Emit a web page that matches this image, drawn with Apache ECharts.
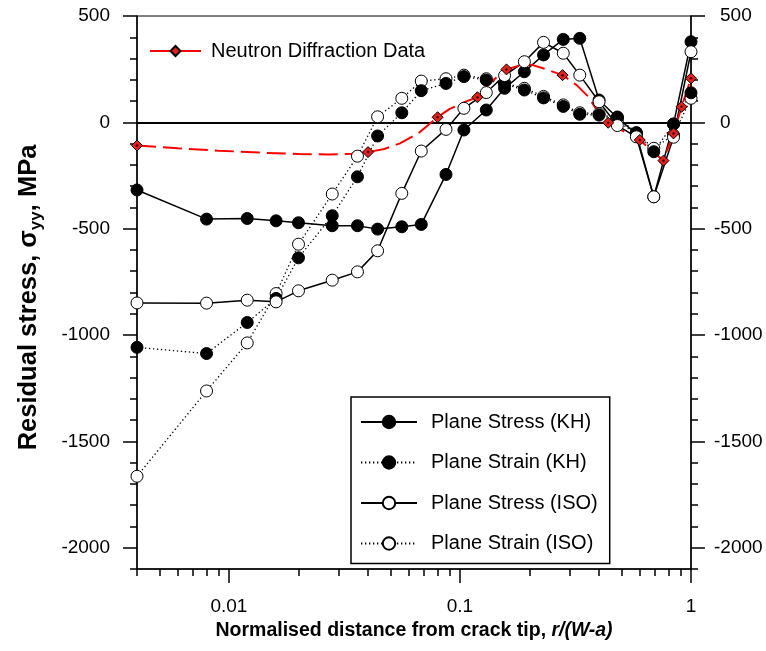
<!DOCTYPE html>
<html>
<head>
<meta charset="utf-8">
<script src="https://cdn.jsdelivr.net/npm/echarts@6/dist/echarts.min.js"></script>
<style>
  html, body { margin: 0; padding: 0; background: #fff; }
  #chart { width: 766px; height: 651px; }
</style>
</head>
<body>
<div id="chart"></div>
<script>
// r/(W-a) positions shared by the four FE curves
const xFE = [0.004, 0.008, 0.012, 0.016, 0.02, 0.028, 0.036, 0.044, 0.056, 0.068, 0.087, 0.104,
  0.13, 0.156, 0.19, 0.23, 0.28, 0.33, 0.40, 0.48, 0.58, 0.69, 0.84, 1.0];

const stressKH = [-318, -455, -452, -463, -472, -486, -486, -502, -491, -480, -245, -36,
  58, 160, 238, 317, 390, 395, 105, 22, -55, -350, -8, 379];
const strainKH = [-1058, -1087, -941, -828, -637, -439, -256, -64, 45, 149, 183, 215,
  199, 180, 152, 115, 75, 38, 34, 25, -48, -138, -8, 139];
const stressISO = [-849, -850, -836, -844, -792, -742, -703, -604, -334, -135, -33, 66,
  140, 220, 285, 376, 325, 222, 97, -15, -68, -350, -70, 332];
const strainISO = [-1664, -1263, -1037, -805, -573, -337, -159, 26, 113, 194, 205, 222,
  205, 185, 160, 122, 82, 45, 40, 5, -52, -122, -60, 113];

// neutron diffraction measurements
const ndX = [0.004, 0.04, 0.08, 0.119, 0.159, 0.278, 0.438, 0.60, 0.76, 0.84, 0.91, 1.0];
const ndY = [-109, -140, 24, 118, 249, 222, -2, -83, -180, -52, 73, 207];
// points along the fitted dashed curve between measurements
const fitX = [0.006, 0.009, 0.014, 0.02, 0.027, 0.034, 0.047, 0.055, 0.066, 0.09, 0.105,
  0.138, 0.18, 0.205, 0.235, 0.32, 0.36, 0.40];
const fitY = [-122, -133, -143, -149, -151, -148, -125, -99, -52, 62, 96,
  195, 266, 270, 250, 175, 120, 40];

const xMajor = [0.01, 0.1, 1];
const xMinor = [0.004, 0.005, 0.006, 0.007, 0.008, 0.009, 0.02, 0.03, 0.04, 0.05, 0.06, 0.07, 0.08, 0.09,
  0.2, 0.3, 0.4, 0.5, 0.6, 0.7, 0.8, 0.9];
const yMajor = [-2000, -1500, -1000, -500, 0, 500];

const FONT = 'Liberation Sans, Arial, sans-serif';

const pairs = (xs, ys) => xs.map((x, i) => [x, ys[i]]);

const redData = [];
ndX.forEach((x, i) => redData.push({ value: [x, ndY[i]], symbol: 'diamond' }));
fitX.forEach((x, i) => redData.push({ value: [x, fitY[i]], symbol: 'none' }));
redData.sort((a, b) => a.value[0] - b.value[0]);

const chart = echarts.init(document.getElementById('chart'));

const xBase = {
  type: 'log', min: 0.004, max: 1, position: 'bottom',
  splitLine: { show: false }
};
const yBase = {
  type: 'value', min: -2100, max: 500,
  splitLine: { show: false }
};
const tickLine = { color: '#000', width: 1.5 };

chart.setOption({
  animation: false,
  backgroundColor: '#fff',
  textStyle: { fontFamily: FONT },
  grid: { left: 137, right: 75, top: 16, bottom: 82, show: true, borderColor: '#000', borderWidth: 1 },
  legend: [
    {
      data: [{ name: 'Neutron Diffraction Data', lineStyle: { type: 'solid' } }],
      left: 149, top: 41, padding: 0,
      itemWidth: 51, itemHeight: 12.5,
      textStyle: { fontSize: 20, color: '#000', fontFamily: FONT, padding: [0, 0, 0, 5] }
    },
    {
      data: ['Plane Stress (KH)', 'Plane Strain (KH)', 'Plane Stress (ISO)', 'Plane Strain (ISO)'],
      orient: 'vertical', left: 351, top: 397,
      padding: [15, 12, 10, 9], itemGap: 20.5,
      itemWidth: 56, itemHeight: 15.5,
      borderColor: '#000', borderWidth: 1.5,
      textStyle: { fontSize: 20, color: '#000', fontFamily: FONT, padding: [0, 0, 0, 9] }
    }
  ],
  xAxis: [
    Object.assign({}, xBase, {
      name: 'Normalised distance from crack tip, {i|r/(W-a)}',
      nameLocation: 'middle', nameGap: 48,
      nameTextStyle: {
        fontSize: 19.5, fontWeight: 'bold', color: '#000', fontFamily: FONT,
        rich: { i: { fontSize: 19.5, fontWeight: 'bold', fontStyle: 'italic', color: '#000', fontFamily: FONT } }
      },
      axisLine: { onZero: false, lineStyle: tickLine },
      axisTick: { customValues: xMajor, length: 14, lineStyle: tickLine },
      axisLabel: { customValues: xMajor, formatter: v => String(v), fontSize: 19, color: '#000', margin: 28, fontFamily: FONT }
    }),
    Object.assign({}, xBase, {
      axisLine: { show: false, onZero: false },
      axisTick: { customValues: xMinor, length: 7, lineStyle: tickLine },
      axisLabel: { show: false }
    })
  ],
  yAxis: [
    Object.assign({}, yBase, {
      position: 'left',
      name: 'Residual stress, σ{sub|yy}, MPa',
      nameLocation: 'middle', nameGap: 92, nameRotate: 90,
      nameTextStyle: {
        fontSize: 25.5, fontWeight: 'bold', color: '#000', fontFamily: FONT,
        padding: [0, 10, 0, 0],
        rich: { sub: { fontSize: 17, fontWeight: 'bold', color: '#000', fontFamily: FONT, padding: [16, 0, 0, 0], verticalAlign: 'bottom' } }
      },
      axisLine: { onZero: false, lineStyle: tickLine },
      axisTick: { customValues: yMajor, length: 14, lineStyle: tickLine },
      axisLabel: { customValues: yMajor, formatter: v => String(v), fontSize: 19, color: '#000', margin: 27, fontFamily: FONT }
    }),
    Object.assign({}, yBase, {
      position: 'left', interval: 100,
      axisLine: { show: false, onZero: false },
      axisTick: { length: 7, lineStyle: tickLine },
      axisLabel: { show: false }
    }),
    Object.assign({}, yBase, {
      position: 'right',
      axisLine: { show: true, onZero: false, lineStyle: tickLine },
      axisTick: { customValues: yMajor, length: 14, lineStyle: tickLine },
      axisLabel: {
        customValues: yMajor, fontSize: 19, color: '#000', margin: 23, align: 'left', fontFamily: FONT,
        formatter: v => (v < 0 ? String(v) : '{p|' + v + '}'),
        rich: { p: { fontSize: 19, color: '#000', fontFamily: FONT, padding: [0, 0, 0, 6] } }
      }
    }),
    Object.assign({}, yBase, {
      position: 'right', interval: 100,
      axisLine: { show: false, onZero: false },
      axisTick: { length: 7, lineStyle: tickLine },
      axisLabel: { show: false }
    })
  ],
  series: [
    {
      name: 'Plane Strain (ISO)', type: 'line', data: pairs(xFE, strainISO),
      symbol: 'circle', symbolSize: 12,
      itemStyle: { color: '#fff', borderColor: '#000', borderWidth: 1 },
      lineStyle: { color: '#000', width: 1.3, type: [1.3, 2.7] },
      markLine: {
        silent: true, symbol: 'none', z: 1,
        label: { show: false },
        lineStyle: { color: '#000', width: 2, type: 'solid' },
        data: [{ yAxis: 0 }]
      }
    },
    {
      name: 'Plane Strain (KH)', type: 'line', data: pairs(xFE, strainKH),
      symbol: 'circle', symbolSize: 12,
      itemStyle: { color: '#000', borderColor: '#000', borderWidth: 1 },
      lineStyle: { color: '#000', width: 1.3, type: [1.3, 2.7] }
    },
    {
      name: 'Plane Stress (KH)', type: 'line', data: pairs(xFE, stressKH),
      symbol: 'circle', symbolSize: 12,
      itemStyle: { color: '#000', borderColor: '#000', borderWidth: 1 },
      lineStyle: { color: '#000', width: 1.5 }
    },
    {
      name: 'Plane Stress (ISO)', type: 'line', data: pairs(xFE, stressISO),
      symbol: 'circle', symbolSize: 12,
      itemStyle: { color: '#fff', borderColor: '#000', borderWidth: 1 },
      lineStyle: { color: '#000', width: 1.5 }
    },
    {
      name: 'Neutron Diffraction Data', type: 'line', data: redData, z: 3,
      symbol: 'diamond', symbolSize: 11,
      itemStyle: { color: '#e8201c', borderColor: '#000', borderWidth: 1 },
      lineStyle: { color: '#ff0000', width: 2, type: [19, 7] }
    },
    {
      name: 'ndDot', type: 'scatter', data: pairs(ndX, ndY), z: 4, silent: true,
      symbol: 'circle', symbolSize: 2.5,
      itemStyle: { color: '#000' }
    }
  ]
});
</script>
</body>
</html>
